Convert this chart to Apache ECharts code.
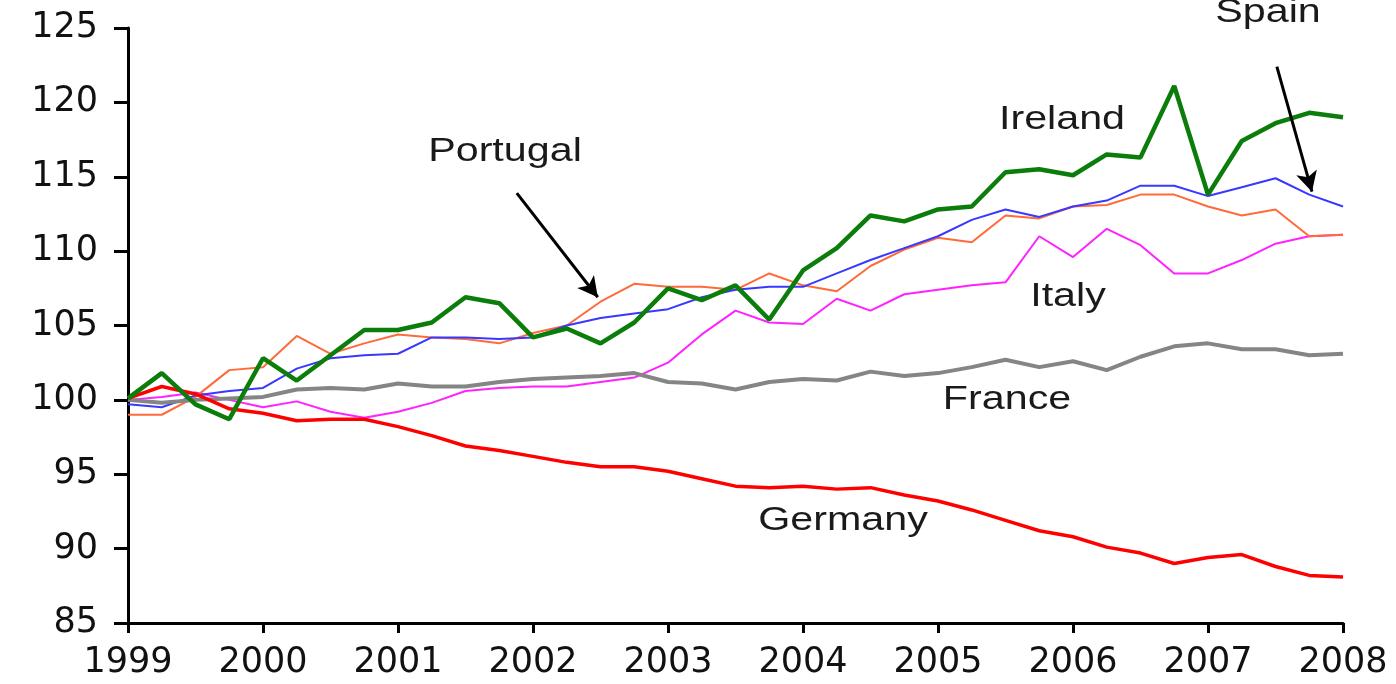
<!DOCTYPE html>
<html>
<head>
<meta charset="utf-8">
<script src="https://cdn.jsdelivr.net/npm/echarts@6/dist/echarts.min.js"></script>
<style>
  html, body { margin: 0; padding: 0; background: #fff; }
  #chart { width: 1396px; height: 684px; }
</style>
</head>
<body>
<div id="chart"></div>
<script>
// quarterly index, 1999Q1 = 100
const startYear = 1999;
const yearTicks = [1999, 2000, 2001, 2002, 2003, 2004, 2005, 2006, 2007, 2008];

const ireland = [100.1, 101.8, 99.7, 98.7, 102.8, 101.3, 103, 104.7, 104.7, 105.2,
  106.9, 106.5, 104.2, 104.8, 103.8, 105.2, 107.5, 106.7, 107.7, 105.4,
  108.7, 110.2, 112.4, 112, 112.8, 113, 115.3, 115.5, 115.1, 116.5,
  116.3, 121.1, 113.8, 117.4, 118.6, 119.3, 119];
const spain = [99.7, 99.5, 100.3, 100.6, 100.8, 102.1, 102.8, 103, 103.1, 104.2,
  104.2, 104.1, 104.2, 105, 105.5, 105.8, 106.1, 106.9, 107.4, 107.6,
  107.6, 108.5, 109.4, 110.2, 111, 112.1, 112.8, 112.3, 113, 113.4,
  114.4, 114.4, 113.7, 114.3, 114.9, 113.8, 113];
const portugal = [99, 99, 100.2, 102, 102.2, 104.3, 103.1, 103.8, 104.4, 104.2,
  104.1, 103.8, 104.5, 105, 106.6, 107.8, 107.6, 107.6, 107.4, 108.5,
  107.7, 107.3, 109, 110.1, 110.9, 110.6, 112.4, 112.2, 113, 113.1,
  113.8, 113.8, 113, 112.4, 112.8, 111, 111.1];
const italy = [100, 100.2, 100.5, 100, 99.5, 99.9, 99.2, 98.8, 99.2, 99.8,
  100.6, 100.8, 100.9, 100.9, 101.2, 101.5, 102.5, 104.4, 106, 105.2,
  105.1, 106.8, 106, 107.1, 107.4, 107.7, 107.9, 111, 109.6, 111.5,
  110.4, 108.5, 108.5, 109.4, 110.5, 111, 111.1];
const france = [100, 99.8, 100, 100.1, 100.2, 100.7, 100.8, 100.7, 101.1, 100.9,
  100.9, 101.2, 101.4, 101.5, 101.6, 101.8, 101.2, 101.1, 100.7, 101.2,
  101.4, 101.3, 101.9, 101.6, 101.8, 102.2, 102.7, 102.2, 102.6, 102,
  102.9, 103.6, 103.8, 103.4, 103.4, 103, 103.1];
const germany = [100.1, 100.9, 100.4, 99.4, 99.1, 98.6, 98.7, 98.7, 98.2, 97.6,
  96.9, 96.6, 96.2, 95.8, 95.5, 95.5, 95.2, 94.7, 94.2, 94.1,
  94.2, 94, 94.1, 93.6, 93.2, 92.6, 91.9, 91.2, 90.8, 90.1,
  89.7, 89, 89.4, 89.6, 88.8, 88.2, 88.1];

// pair each value with its quarter position on the time axis
function toPoints(values) {
  return values.map((v, i) => [startYear + i / 4, v]);
}

const arrowLine = {
  silent: true,
  symbol: ['none', 'arrow'],
  symbolSize: [16, 20],
  label: { show: false },
  lineStyle: { color: '#000', width: 3, type: 'solid' },
  emphasis: { disabled: true }
};

const chart = echarts.init(document.getElementById('chart'));
chart.setOption({
  animation: false,
  backgroundColor: '#fff',
  grid: { left: 128, right: 53, top: 28, bottom: 61 },
  xAxis: {
    type: 'value',
    min: yearTicks[0],
    max: yearTicks[yearTicks.length - 1],
    interval: 1,
    splitLine: { show: false },
    axisLine: { lineStyle: { color: '#000', width: 3 } },
    axisTick: { length: 10, lineStyle: { color: '#000', width: 3 } },
    axisLabel: {
      formatter: v => String(v),
      color: '#111',
      fontFamily: 'DejaVu Sans',
      fontSize: 35,
      margin: 22
    }
  },
  yAxis: {
    type: 'value',
    min: 85,
    max: 125,
    interval: 5,
    splitLine: { show: false },
    axisLine: { show: true, lineStyle: { color: '#000', width: 3 } },
    axisTick: { show: true, length: 14, lineStyle: { color: '#000', width: 3 } },
    axisLabel: {
      color: '#111',
      fontFamily: 'DejaVu Sans',
      fontSize: 35,
      margin: 30
    }
  },
  series: [
    { name: 'Italy', type: 'line', data: toPoints(italy), showSymbol: false,
      lineStyle: { color: '#ff22ff', width: 2 } },
    { name: 'Portugal', type: 'line', data: toPoints(portugal), showSymbol: false,
      lineStyle: { color: '#ff6a3a', width: 2 },
      markLine: Object.assign({}, arrowLine, {
        data: [[{ coord: [2001.88, 113.9] }, { coord: [2002.48, 106.9] }]]
      }) },
    { name: 'Spain', type: 'line', data: toPoints(spain), showSymbol: false,
      lineStyle: { color: '#3838ff', width: 2 },
      markLine: Object.assign({}, arrowLine, {
        data: [[{ coord: [2007.51, 122.4] }, { coord: [2007.77, 114.0] }]]
      }) },
    { name: 'France', type: 'line', data: toPoints(france), showSymbol: false,
      lineStyle: { color: '#858585', width: 4 } },
    { name: 'Germany', type: 'line', data: toPoints(germany), showSymbol: false,
      lineStyle: { color: '#ff0000', width: 3.5 } },
    { name: 'Ireland', type: 'line', data: toPoints(ireland), showSymbol: false,
      lineStyle: { color: '#0a7d0a', width: 4.5 } }
  ],
  graphic: [
    ['Spain', 1268, 13],
    ['Ireland', 1062, 120],
    ['Portugal', 505, 152],
    ['Italy', 1068, 297],
    ['France', 1007, 400],
    ['Germany', 843, 521]
  ].map(([t, x, y]) => ({
    type: 'text',
    x: x,
    y: y,
    scaleX: 1.25,
    silent: true,
    style: {
      text: t,
      fill: '#1a1a1a',
      font: '33px "Liberation Sans", Arial, sans-serif',
      textAlign: 'center',
      textVerticalAlign: 'middle'
    }
  }))
});
</script>
</body>
</html>
